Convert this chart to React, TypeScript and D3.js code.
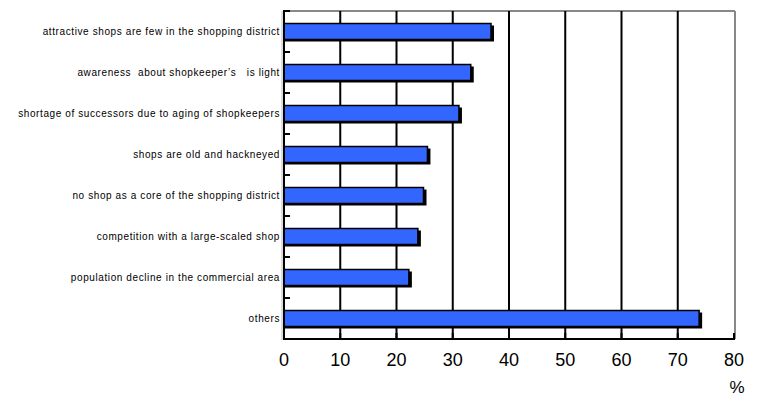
import React from "react";
import * as d3 from "d3";

const categories = [
  "attractive shops are few in the shopping district",
  "awareness  about shopkeeper\u2019s\u3000is light",
  "shortage of successors due to aging of shopkeepers",
  "shops are old and hackneyed",
  "no shop as a core of the shopping district",
  "competition with a large-scaled shop",
  "population decline in the commercial area",
  "others",
];
const values = [36.8, 33.2, 31.1, 25.5, 24.8, 23.8, 22.2, 73.8];
const xTicks = [0, 10, 20, 30, 40, 50, 60, 70, 80];
const unitLabel = "%";

const W = 758;
const H = 398;
const M = { left: 284, right: 734, top: 11, bottom: 339 };

export default function App() {
  const x = d3.scaleLinear().domain([0, 80]).range([M.left, M.right]);
  const y = d3
    .scaleBand<string>()
    .domain(categories)
    .range([M.top, M.bottom])
    .padding(0);
  const step = y.step();
  const barH = step * 0.39;
  const boundaries = d3.range(categories.length + 1).map((i) => M.top + i * step);
  const labelFont = "'Liberation Sans', Arial, sans-serif";

  return (
    <svg
      width={W}
      height={H}
      style={{ position: "absolute", left: 0, top: 0, background: "#fff" }}
    >
      {/* plot frame: gray top and right edges */}
      <line x1={M.left} x2={M.right + 1} y1={M.top} y2={M.top} stroke="#888" strokeWidth={2} />
      <line x1={M.right + 1} x2={M.right + 1} y1={M.top} y2={M.bottom} stroke="#888" strokeWidth={2} />

      {/* vertical gridlines */}
      {xTicks.slice(1, -1).map((t) => (
        <line key={`g${t}`} x1={x(t)} x2={x(t)} y1={M.top} y2={M.bottom} stroke="#000" strokeWidth={2} />
      ))}

      {/* bars with drop shadow */}
      {categories.map((c, i) => {
        const yc = (y(c) as number) + step / 2;
        const y0 = yc - barH / 2;
        return (
          <g key={c}>
            <rect x={x(0)} y={y0 + 2} width={x(values[i]) - x(0) + 3} height={barH} fill="#000" />
            <rect
              x={x(0)}
              y={y0}
              width={x(values[i]) - x(0)}
              height={barH}
              fill="#3366ff"
              stroke="#000"
              strokeWidth={1.5}
            />
          </g>
        );
      })}

      {/* left axis */}
      <line x1={M.left - 2} x2={M.left - 2} y1={M.top} y2={M.bottom + 1} stroke="#bbb" strokeWidth={1} />
      <line x1={M.left} x2={M.left} y1={M.top - 1} y2={M.bottom + 1} stroke="#000" strokeWidth={2} />
      {boundaries.map((b, i) => (
        <line key={`lt${i}`} x1={M.left} x2={M.left + 6} y1={b} y2={b} stroke="#000" strokeWidth={2} />
      ))}

      {/* bottom axis */}
      <line x1={M.left - 1} x2={M.right + 1} y1={M.bottom} y2={M.bottom} stroke="#000" strokeWidth={2} />
      {xTicks.map((t) => (
        <line key={`bt${t}`} x1={x(t)} x2={x(t)} y1={M.bottom} y2={M.bottom - 6} stroke="#000" strokeWidth={2} />
      ))}

      {/* category labels */}
      {categories.map((c) => (
        <text
          key={`l${c}`}
          x={M.left - 4}
          y={(y(c) as number) + step / 2}
          dy="0.35em"
          textAnchor="end"
          fontSize={10}
          letterSpacing={0.6}
          fontFamily={labelFont}
          fill="#000"
          style={{ whiteSpace: "pre" }}
        >
          {c}
        </text>
      ))}

      {/* value tick labels */}
      {xTicks.map((t) => (
        <text
          key={`xl${t}`}
          x={x(t)}
          y={366}
          textAnchor="middle"
          fontSize={18}
          fontFamily={labelFont}
          fill="#000"
        >
          {t}
        </text>
      ))}
      <text x={737} y={393} textAnchor="middle" fontSize={17} fontFamily={labelFont} fill="#000">
        {unitLabel}
      </text>
    </svg>
  );
}
